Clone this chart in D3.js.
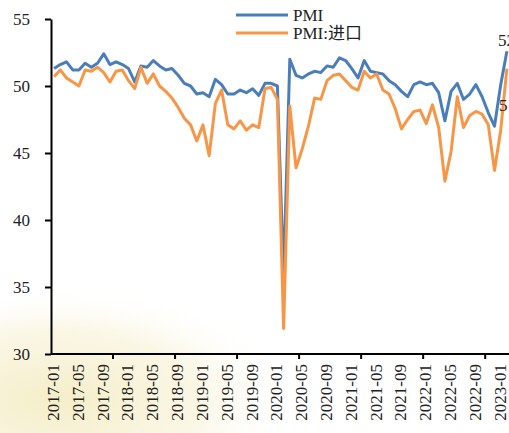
<!DOCTYPE html>
<html>
<head>
<meta charset="utf-8">
<script src="https://cdn.jsdelivr.net/npm/d3@7"></script>
<style>
  html, body { margin:0; padding:0; background:#fff; }
  svg { display:block; }
  text { font-family: "Liberation Serif", "Times New Roman", "Noto Sans CJK SC", serif; fill:#222; }
</style>
</head>
<body>
<svg id="chart" width="509" height="433"></svg>
<script>
// monthly, 2017-01 .. 2023-02
const months = [];
for (let yr = 2017; yr <= 2023; yr++) {
  for (let m = 1; m <= 12; m++) {
    if (yr === 2023 && m > 2) break;
    months.push(yr + "-" + String(m).padStart(2, "0"));
  }
}

const pmi = [
  51.3, 51.6, 51.8, 51.2, 51.2, 51.7, 51.4, 51.7, 52.4, 51.6, 51.8, 51.6,
  51.3, 50.3, 51.5, 51.4, 51.9, 51.5, 51.2, 51.3, 50.8, 50.2, 50.0, 49.4,
  49.5, 49.2, 50.5, 50.1, 49.4, 49.4, 49.7, 49.5, 49.8, 49.3, 50.2, 50.2,
  50.0, 35.7, 52.0, 50.8, 50.6, 50.9, 51.1, 51.0, 51.5, 51.4, 52.1, 51.9,
  51.3, 50.6, 51.9, 51.1, 51.0, 50.9, 50.4, 50.1, 49.6, 49.2, 50.1, 50.3,
  50.1, 50.2, 49.5, 47.4, 49.6, 50.2, 49.0, 49.4, 50.1, 49.2, 48.0, 47.0,
  50.1, 52.6
];

const pmiImport = [
  50.7, 51.2, 50.6, 50.3, 50.0, 51.2, 51.1, 51.4, 51.0, 50.3, 51.1, 51.2,
  50.4, 49.8, 51.4, 50.2, 50.9, 50.0, 49.6, 49.1, 48.4, 47.6, 47.1, 45.9,
  47.1, 44.8, 48.7, 49.7, 47.1, 46.8, 47.4, 46.7, 47.1, 46.9, 49.8, 49.9,
  49.0, 31.9, 48.5, 43.9, 45.3, 47.0, 49.1, 49.0, 50.4, 50.8, 50.9, 50.4,
  49.9, 49.7, 51.1, 50.6, 50.9, 49.7, 49.4, 48.3, 46.8, 47.5, 48.1, 48.2,
  47.2, 48.6, 46.9, 42.9, 45.1, 49.2, 46.9, 47.8, 48.1, 47.9, 47.1, 43.7,
  46.7, 51.3
];

const yTicks = [30, 35, 40, 45, 50, 55];
const labelMonths = months.filter((d, i) => i % 4 === 0);
const seriesNames = ["PMI", "PMI:进口"];
const colors = ["#4A7EBB", "#F79646"];

(function(){
  const svg = d3.select("#chart");
  const L = 51, R = 510, T = 19, B = 354;

  // faint watermark tint in the lower left
  const defs = svg.append("defs");
  const rg = defs.append("radialGradient").attr("id", "wm")
    .attr("cx", "0.35").attr("cy", "0.5").attr("r", "0.5");
  rg.append("stop").attr("offset", "0%").attr("stop-color", "#f3ecc2").attr("stop-opacity", 0.9);
  rg.append("stop").attr("offset", "60%").attr("stop-color", "#f6f0d0").attr("stop-opacity", 0.55);
  rg.append("stop").attr("offset", "100%").attr("stop-color", "#ffffff").attr("stop-opacity", 0);
  svg.append("ellipse").attr("cx", 130).attr("cy", 400).attr("rx", 240).attr("ry", 115)
    .attr("fill", "url(#wm)");

  const x = d3.scaleBand().domain(months).range([L, R]).padding(0);
  const y = d3.scaleLinear().domain([30, 55]).range([B, T]);
  const cx = d => x(d) + x.bandwidth() / 2;

  // y axis
  const yAxis = svg.append("g").attr("transform", `translate(${L},0)`)
    .call(d3.axisLeft(y).tickValues(yTicks).tickSize(6).tickPadding(15).tickSizeOuter(0));
  yAxis.select(".domain").attr("stroke", "#000").attr("stroke-width", 2);
  yAxis.selectAll(".tick line").attr("stroke", "#000").attr("stroke-width", 2);
  yAxis.selectAll(".tick text").attr("font-size", 17).attr("fill", "#222")
    .attr("font-family", "Liberation Serif, serif");

  // x axis line and boundary ticks every 10 months
  svg.append("line").attr("x1", L).attr("x2", R).attr("y1", B).attr("y2", B)
    .attr("stroke", "#000").attr("stroke-width", 2);
  svg.append("g").selectAll("line")
    .data(months.filter((d, i) => i > 0 && i % 10 === 0))
    .join("line")
    .attr("x1", d => x(d)).attr("x2", d => x(d))
    .attr("y1", B).attr("y2", B + 5)
    .attr("stroke", "#000").attr("stroke-width", 2);

  svg.append("g").selectAll("text").data(labelMonths).join("text")
    .attr("transform", d => `translate(${cx(d) - 1},${B + 10}) rotate(-90)`)
    .attr("text-anchor", "end").attr("dy", "0.35em")
    .attr("font-size", 17).attr("fill", "#222")
    .text(d => d);

  // lines (import drawn over PMI, as in the source)
  const line = d3.line().x((d, i) => cx(months[i])).y(d => y(d));
  svg.append("path").datum(pmi).attr("d", line)
    .attr("fill", "none").attr("stroke", colors[0]).attr("stroke-width", 3)
    .attr("stroke-linejoin", "round");
  svg.append("path").datum(pmiImport).attr("d", line)
    .attr("fill", "none").attr("stroke", colors[1]).attr("stroke-width", 3)
    .attr("stroke-linejoin", "round");

  // end labels (cut by the right edge, like the source)
  const last = months.length - 1;
  svg.append("text").attr("x", cx(months[last]) - 9).attr("y", y(pmi[last]) - 5)
    .attr("font-size", 17).attr("fill", "#404040").text(pmi[last].toFixed(1));
  svg.append("text").attr("x", cx(months[last]) - 8).attr("y", y(pmiImport[last]) + 42)
    .attr("font-size", 17).attr("fill", "#404040").text(pmiImport[last].toFixed(1));

  // legend
  const lg = svg.append("g").attr("transform", "translate(236,15)");
  seriesNames.forEach((n, i) => {
    lg.append("line").attr("x1", 0).attr("x2", 52).attr("y1", i * 18).attr("y2", i * 18)
      .attr("stroke", colors[i]).attr("stroke-width", 3);
    lg.append("text").attr("x", 57).attr("y", i * 18).attr("dy", "0.35em")
      .attr("font-size", 17).attr("fill", "#222").text(n);
  });
})();
</script>
</body>
</html>
